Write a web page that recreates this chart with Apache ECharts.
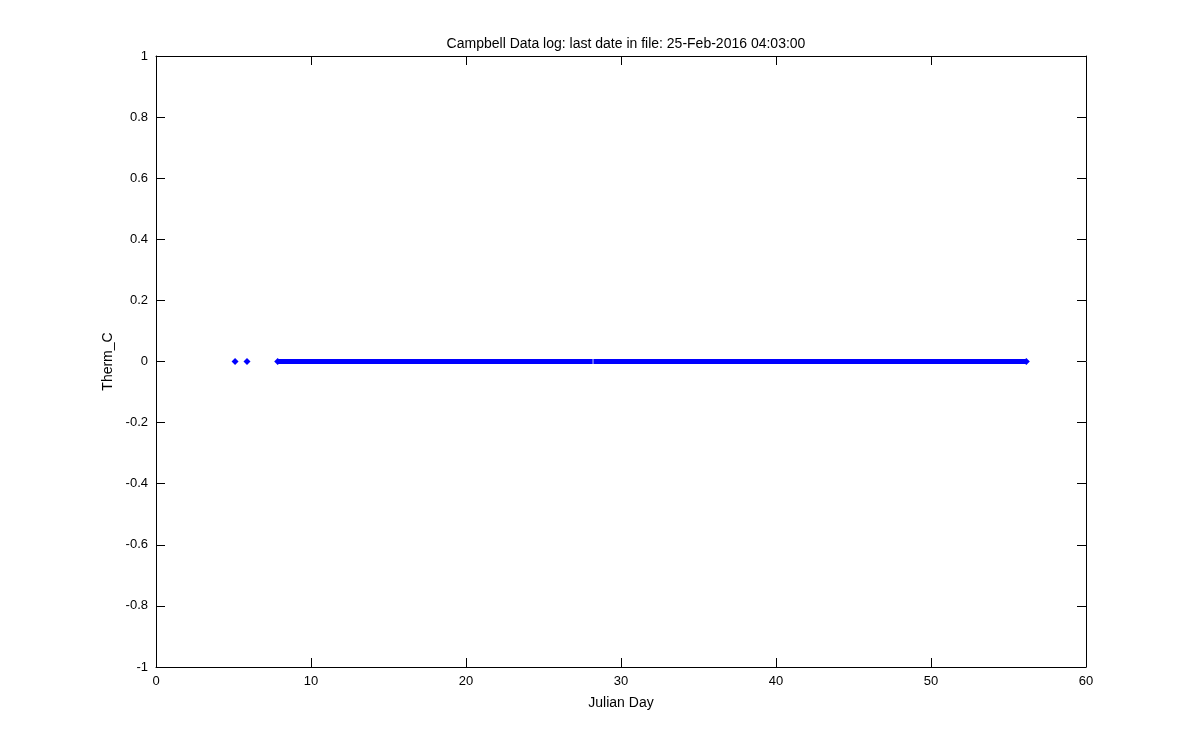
<!DOCTYPE html>
<html><head><meta charset="utf-8">
<script src="https://cdn.jsdelivr.net/npm/echarts@6/dist/echarts.min.js"></script>
<style>html,body{margin:0;padding:0;background:#fff}#c{width:1200px;height:750px}</style>
</head><body><div id="c"></div>
<script>
// Isolated readings (Julian Day, Therm_C)
const isolatedDays = [5.1, 5.87];
const isolatedVals = [0, 0];
// Continuous logging runs: [startDay, endDay, value]
const runStarts = [7.85, 28.22];
const runEnds = [28.17, 56.15];
const runVals = [0, 0];
const xTicks = {min: 0, max: 60, interval: 10};
const yTicks = {min: -1, max: 1, interval: 0.2};
const titleText = 'Campbell Data log: last date in file: 25-Feb-2016 04:03:00';

const chart = echarts.init(document.getElementById('c'), null, {renderer: 'canvas'});
const font = 'Liberation Sans, Arial, sans-serif';
const blue = '#0000ff';

const lineData = [];
runStarts.forEach((s, i) => {
  if (i > 0) lineData.push('-');
  lineData.push([s, runVals[i]]);
  lineData.push([runEnds[i], runVals[i]]);
});
// markers at the outer ends of the logging period
const endPts = [[runStarts[0], runVals[0]], [runEnds[runEnds.length - 1], runVals[runVals.length - 1]]];
const isoPts = isolatedDays.map((d, i) => [d, isolatedVals[i]]);

const axisCommon = {
  axisLine: {show: true, onZero: false, lineStyle: {color: '#000', width: 1}},
  axisTick: {show: true, inside: true, length: 9, lineStyle: {color: '#000', width: 1}},
  splitLine: {show: false}
};

chart.setOption({
  animation: false,
  backgroundColor: '#fff',
  title: {
    text: titleText, left: 621, top: 32, textAlign: 'center',
    textStyle: {fontFamily: font, fontSize: 14, fontWeight: 'normal', color: '#000'}
  },
  grid: {left: 156, right: 114, top: 56, bottom: 83},
  xAxis: [
    Object.assign({}, axisCommon, {
      type: 'value', position: 'bottom', min: xTicks.min, max: xTicks.max, interval: xTicks.interval,
      name: 'Julian Day', nameLocation: 'middle', nameGap: 29,
      nameTextStyle: {fontFamily: font, fontSize: 14, color: '#000'},
      axisLabel: {fontFamily: font, fontSize: 13, color: '#000', margin: 8}
    }),
    Object.assign({}, axisCommon, {
      type: 'value', position: 'top', min: xTicks.min, max: xTicks.max, interval: xTicks.interval,
      axisLabel: {show: false}
    })
  ],
  yAxis: [
    Object.assign({}, axisCommon, {
      type: 'value', position: 'left', min: yTicks.min, max: yTicks.max, interval: yTicks.interval,
      name: 'Therm_C', nameLocation: 'middle', nameGap: 38, nameRotate: 90,
      nameTextStyle: {fontFamily: font, fontSize: 14, color: '#000'},
      axisLabel: {fontFamily: font, fontSize: 13, color: '#000', margin: 8,
        formatter: v => String(Math.round(v * 10) / 10)}
    }),
    Object.assign({}, axisCommon, {
      type: 'value', position: 'right', min: yTicks.min, max: yTicks.max, interval: yTicks.interval,
      axisLabel: {show: false}
    })
  ],
  series: [
    {type: 'line', data: lineData, symbol: 'none', connectNulls: false,
     lineStyle: {color: blue, width: 5, cap: 'butt'}, silent: true},
    {type: 'scatter', data: isoPts.concat(endPts), symbol: 'diamond', symbolSize: 7,
     itemStyle: {color: blue, opacity: 1}, silent: true}
  ]
});
</script></body></html>
